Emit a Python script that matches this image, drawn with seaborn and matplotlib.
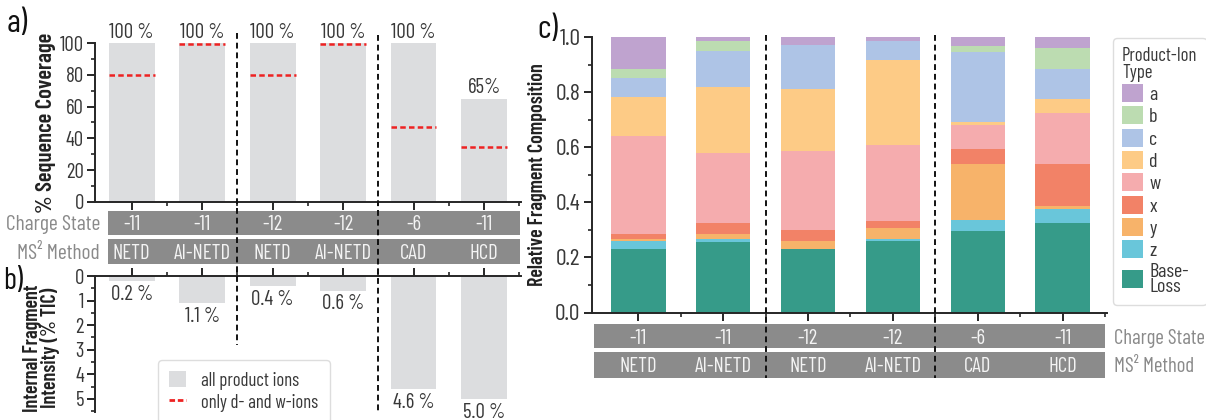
import numpy as np
import pandas as pd
import matplotlib
matplotlib.use("Agg")
import matplotlib.pyplot as plt
import seaborn as sns
from matplotlib.patches import Rectangle, Patch
from matplotlib.lines import Line2D
import matplotlib.transforms as mtransforms
from matplotlib.ticker import MultipleLocator, FixedLocator, FormatStrFormatter

# ---------------- data ----------------
charge_states = ["-11", "-11", "-12", "-12", "-6", "-11"]
methods = ["NETD", "AI-NETD", "NETD", "AI-NETD", "CAD", "HCD"]

coverage_all = [100, 100, 100, 100, 100, 65]
coverage_labels = ["100 %", "100 %", "100 %", "100 %", "100 %", "65%"]
coverage_dw = [80, 99.5, 80, 99.5, 47, 34.5]

internal_intensity = [0.2, 1.1, 0.4, 0.6, 4.6, 5.0]
internal_labels = ["0.2 %", "1.1 %", "0.4 %", "0.6 %", "4.6 %", "5.0 %"]

ion_labels = ["a", "b", "c", "d", "w", "x", "y", "z", "Base-\nLoss"]  # top -> bottom
frac_a = [0.116, 0.015, 0.028, 0.012, 0.032, 0.038]
frac_b = [0.031, 0.035, 0.000, 0.000, 0.020, 0.078]
frac_c = [0.071, 0.131, 0.160, 0.069, 0.255, 0.108]
frac_d = [0.141, 0.241, 0.224, 0.311, 0.013, 0.051]
frac_w = [0.355, 0.251, 0.289, 0.277, 0.086, 0.184]
frac_x = [0.019, 0.041, 0.038, 0.023, 0.055, 0.153]
frac_y = [0.009, 0.019, 0.032, 0.041, 0.203, 0.012]
frac_z = [0.029, 0.012, 0.000, 0.006, 0.040, 0.052]
frac_base = [0.229, 0.255, 0.229, 0.261, 0.296, 0.324]

ion_colors = ["#bfa3cf", "#bcdcb1", "#aec4e6", "#fdcb86", "#f5acae",
              "#f28267", "#f7b36a", "#69c6da", "#369b89"]

# ---------------- style ----------------
sns.set_style("ticks")
plt.rcParams["font.family"] = ["Barlow Condensed", "Roboto Condensed",
                               "Fira Sans Condensed", "Pragati Narrow", "DejaVu Sans"]
plt.rcParams["axes.linewidth"] = 1.4
plt.rcParams["xtick.major.width"] = 1.4
plt.rcParams["ytick.major.width"] = 1.4
plt.rcParams["xtick.minor.width"] = 1.2
plt.rcParams["ytick.minor.width"] = 1.2
plt.rcParams["xtick.major.pad"] = 2
plt.rcParams["ytick.major.pad"] = 2

W, H = 1206, 420
fig = plt.figure(figsize=(W / 100, H / 100), dpi=100)

def fx(px):
    return px / W

def fy(py):
    return 1 - py / H

GRAY_BAR = "#dcdddf"
TABLE_GRAY = "#8b8b8b"
TXT = "#383838"
LABEL_GRAY = "#8a8a8a"
YLAB = "#222222"
pos = np.arange(6)

# ---------------- panel a ----------------
ax_a = fig.add_axes([fx(95), fy(201.7), fx(520.7 - 95), (201.7 - 43.3) / H])
sns.barplot(x=pos, y=coverage_all, color=GRAY_BAR, saturation=1, width=0.65,
            linewidth=0, ax=ax_a)
ax_a.hlines(coverage_dw, pos - 0.325, pos + 0.325, colors="#ee2222",
            linestyles=(0, (2.2, 1.3)), linewidth=1.8, zorder=3)
for i, (v, lab) in enumerate(zip(coverage_all, coverage_labels)):
    ax_a.text(i, v + 1.0, lab, ha="center", va="bottom", fontsize=15, color=TXT,
              clip_on=False)
ax_a.set_xlim(-0.52, 5.52)
ax_a.set_ylim(0, 100)
ax_a.set_xlabel("")
ax_a.set_xticks(pos)
ax_a.set_xticklabels([])
ax_a.xaxis.set_minor_locator(FixedLocator(np.arange(0.5, 6, 1.0)))
ax_a.yaxis.set_major_locator(MultipleLocator(20))
ax_a.yaxis.set_minor_locator(MultipleLocator(10))
ax_a.tick_params(axis="both", which="major", length=6, labelsize=15,
                 labelcolor=TXT)
ax_a.tick_params(axis="both", which="minor", length=3)
ax_a.set_ylabel("% Sequence Coverage", fontsize=16.3, fontweight="semibold", color=YLAB)
ax_a.yaxis.set_label_coords(-0.092, 0.5)
sns.despine(ax=ax_a)

# ---------------- panel b ----------------
ax_b = fig.add_axes([fx(95), fy(411.7), fx(520.7 - 95), (411.7 - 276) / H])
sns.barplot(x=pos, y=internal_intensity, color=GRAY_BAR, saturation=1, width=0.65,
            linewidth=0, ax=ax_b)
for i, (v, lab) in enumerate(zip(internal_intensity, internal_labels)):
    ax_b.text(i, v + 0.15, lab, ha="center", va="top", fontsize=15, color=TXT,
              clip_on=False)
ax_b.set_xlim(-0.52, 5.52)
ax_b.set_ylim(5.52, 0)
ax_b.set_xlabel("")
ax_b.xaxis.tick_top()
ax_b.set_xticks(pos)
ax_b.set_xticklabels([])
ax_b.xaxis.set_minor_locator(FixedLocator(np.arange(0.5, 6, 1.0)))
ax_b.yaxis.set_major_locator(MultipleLocator(1))
ax_b.yaxis.set_minor_locator(MultipleLocator(0.5))
ax_b.tick_params(axis="both", which="major", length=6, labelsize=15,
                 labelcolor=TXT)
ax_b.tick_params(axis="both", which="minor", length=3)
ax_b.spines["bottom"].set_visible(False)
ax_b.spines["right"].set_visible(False)
ax_b.set_ylabel("Internal Fragment\nIntensity (% TIC)", fontsize=14.5,
                fontweight="semibold", color=YLAB, linespacing=0.88)
ax_b.yaxis.set_label_coords(-0.082, 0.47)

# ---------------- tables ----------------
def draw_table(ax_ref, left_px, right_px, top_px, bottom_px, x0, x1, rows):
    axt = fig.add_axes([fx(left_px), fy(bottom_px), fx(right_px - left_px),
                        (bottom_px - top_px) / H])
    axt.set_xlim(ax_ref.get_xlim())
    axt.set_ylim(bottom_px, top_px)
    axt.axis("off")
    for (r_top, r_bot, texts) in rows:
        axt.add_patch(Rectangle((x0, r_top), x1 - x0, r_bot - r_top,
                                facecolor=TABLE_GRAY, edgecolor="none"))
        for i, t in enumerate(texts):
            axt.text(i, (r_top + r_bot) / 2, t, ha="center", va="center_baseline",
                     fontsize=15, color="#f4f4f4")
    return axt

draw_table(ax_a, 95, 520.7, 205, 270, -0.34, 5.51,
           [(211, 235, charge_states), (239.3, 264, methods)])

# ---------------- panel c ----------------
ax_c = fig.add_axes([fx(591.7), fy(312.5), fx(1106.7 - 591.7), (312.5 - 37.3) / H])
layers = [frac_a, frac_b, frac_c, frac_d, frac_w, frac_x, frac_y, frac_z, frac_base]
stack = np.array(layers)
for k in range(len(layers)):
    heights = stack[k:].sum(axis=0)
    sns.barplot(x=pos, y=heights, color=ion_colors[k], saturation=1, width=0.64,
                linewidth=0, ax=ax_c)
ax_c.set_xlim(-0.55, 5.52)
ax_c.set_ylim(0, 1.0)
ax_c.set_xlabel("")
ax_c.set_xticks(pos)
ax_c.set_xticklabels([])
ax_c.xaxis.set_minor_locator(FixedLocator(np.arange(0.5, 6, 1.0)))
ax_c.yaxis.set_major_locator(MultipleLocator(0.2))
ax_c.yaxis.set_minor_locator(MultipleLocator(0.1))
ax_c.yaxis.set_major_formatter(FormatStrFormatter("%.1f"))
ax_c.tick_params(axis="both", which="major", length=6, labelsize=17,
                 labelcolor=TXT)
ax_c.tick_params(axis="both", which="minor", length=3)
ax_c.set_ylabel("Relative Fragment Composition", fontsize=14.5, fontweight="semibold",
                color=YLAB)
ax_c.yaxis.set_label_coords(-0.087, 0.5)
sns.despine(ax=ax_c)

draw_table(ax_c, 591.7, 1106.7, 318, 384, -0.52, 5.50,
           [(324, 348.3, charge_states), (351.7, 377.7, methods)])

# ---------------- row labels ----------------
fig.text(fx(100), fy(223), "Charge State", ha="right", va="center_baseline",
         fontsize=15.5, color=LABEL_GRAY)
fig.text(fx(100), fy(251.7), "MS² Method", ha="right", va="center_baseline",
         fontsize=15.5, color=LABEL_GRAY)
fig.text(fx(1114), fy(336), "Charge State", ha="left", va="center_baseline",
         fontsize=15, color=LABEL_GRAY)
fig.text(fx(1114), fy(364.7), "MS² Method", ha="left", va="center_baseline",
         fontsize=15, color=LABEL_GRAY)

# ---------------- dashed separators ----------------
trans_a = mtransforms.blended_transform_factory(ax_a.transData, fig.transFigure)
trans_c = mtransforms.blended_transform_factory(ax_c.transData, fig.transFigure)
dash = dict(color="#111111", linestyle=(0, (3, 2)), linewidth=1.4, zorder=10)
fig.add_artist(Line2D([1.5, 1.5], [fy(33), fy(345)], transform=trans_a, **dash))
fig.add_artist(Line2D([3.5, 3.5], [fy(35), fy(414)], transform=trans_a, **dash))
fig.add_artist(Line2D([1.5, 1.5], [fy(35), fy(378)], transform=trans_c, **dash))
fig.add_artist(Line2D([3.5, 3.5], [fy(35), fy(378)], transform=trans_c, **dash))

# ---------------- legends ----------------
h_b = [Patch(facecolor=GRAY_BAR, edgecolor="none"),
       Line2D([], [], color="#ee2222", linestyle=(0, (2, 1)), linewidth=2)]
leg_b = fig.legend(h_b, ["all product ions", "only d- and w-ions"],
                   loc="upper left", bbox_to_anchor=(fx(158), fy(360)),
                   fontsize=13.5, frameon=True, fancybox=True, edgecolor="#dddddd",
                   handlelength=0.9, handleheight=0.9, labelspacing=0.2,
                   borderpad=0.6, handletextpad=0.8, framealpha=1, borderaxespad=0)
for t in leg_b.get_texts():
    t.set_color(TXT)

h_c = [Patch(facecolor=c, edgecolor="none") for c in ion_colors]
leg_c = fig.legend(h_c, ion_labels, title="Product-Ion\nType",
                   loc="upper left", bbox_to_anchor=(fx(1113), fy(38)),
                   fontsize=14.5, title_fontsize=13.5, frameon=True, fancybox=True,
                   edgecolor="#dddddd", handlelength=1.05, handleheight=1.0,
                   labelspacing=0.12, borderpad=0.45, handletextpad=0.3,
                   alignment="left", framealpha=1, borderaxespad=0)
for t in leg_c.get_texts():
    t.set_color(TXT)
    t.set_linespacing(0.8)
leg_c.get_title().set_color(TXT)
leg_c.get_title().set_linespacing(0.9)

# ---------------- panel letters ----------------
fig.text(fx(7), fy(24), "a)", fontsize=24, ha="left", va="center", color="#111111")
fig.text(fx(3), fy(281), "b)", fontsize=22, ha="left", va="center", color="#111111")
fig.text(fx(537), fy(30), "c)", fontsize=24, ha="left", va="center", color="#111111")

fig.savefig("out.png", dpi=100)
